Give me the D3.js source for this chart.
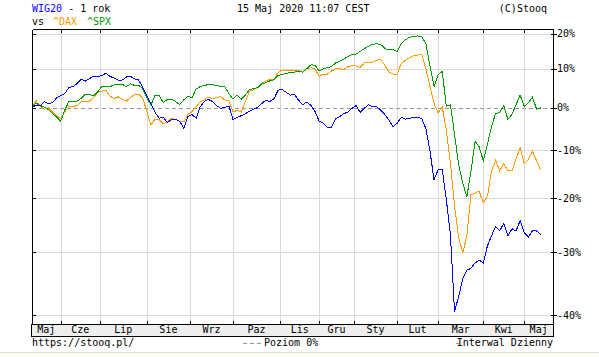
<!DOCTYPE html>
<html>
<head>
<meta charset="utf-8">
<script src="https://cdn.jsdelivr.net/npm/d3@7"></script>
<style>
    body { margin: 0; background: #fff; }
    svg { display: block; font-family: "DejaVu Sans Mono", monospace; font-size: 10px; }
</style>
</head>
<body>
<svg></svg>
<script>

// month labels and the trading-day index where each new month starts
const months = ['Maj', 'Cze', 'Lip', 'Sie', 'Wrz', 'Paz', 'Lis', 'Gru', 'Sty', 'Lut', 'Mar', 'Kwi', 'Maj']
const monthStarts = [14, 33, 56, 77, 98, 121, 140, 157, 178, 198, 220, 240]
const totalDays = 254
const dayStep = 2 //one value every second session

// percent change vs 15 May 2019
const yTicks = [20, 10, 0, -10, -20, -30, -40]

const wig20 = [
    0, 0.6, 0.5, 1.5, 1.0, 1.2, 2.4, 3.0, 3.5, 5.1,
    5.3, 6.1, 7.2, 6.7, 7.4, 8.0, 7.9, 8.2, 8.8, 8.0,
    7.5, 7.0, 7.0, 7.8, 8.0, 7.3, 7.0, 5.1, 3.0, 0.9,
    -1.2, -2.6, -2.4, -3.6, -2.9, -2.9, -3.3, -5.0, -2.2, -1.7,
    -2.6, 0.2, 1.5, 2.0, 1.5, 0.5, -0.2, 0, 0.4, -2.9,
    -2.4, -2.0, -1.5, -0.9, -0.4, 0, 1.0, 1.8, 1.5, 2.2,
    4.4, 4.5, 3.8, 3.1, 3.3, 1.8, 0.7, 1.4, 0.5, -1.0,
    -3.3, -3.8, -4.8, -4.8, -2.7, -2.2, -1.5, -1.1, -0.2, 0.5,
    -1.2, -0.2, 0.7, 0.2, 0.2, -0.6, -1.7, -3.0, -4.6, -3.8,
    -2.4, -2.8, -2.6, -2.4, -2.4, -2.7, -5.0, -10.1, -16.3, -14.2,
    -14.2, -20.3, -26.9, -39.5, -37.2, -34.4, -33.0, -32.7, -31.8, -31.3,
    -31.8, -28.9, -27.1, -25.4, -26.2, -24.8, -27.1, -25.8, -26.2, -24.3,
    -26.5, -27.3, -26.2, -26.2, -26.9
]

const dax = [
    0, 1.7, 0.4, -0.4, -0.1, -1.1, -2.0, -2.7, -1.0, 0.2,
    0.2, 0.5, 1.4, 1.5, 1.6, 2.5, 3.8, 4.1, 4.3, 2.9,
    2.2, 2.7, 2.1, 1.6, 2.5, 3.3, 3.3, 2.4, -1.0, -4.2,
    -2.8, -2.9, -3.9, -3.5, -2.6, -2.9, -3.3, -3.5, -1.7, -1.0,
    0.2, 1.4, 1.9, 2.6, 2.2, 2.5, 2.7, 1.9, 1.7, -1.1,
    -0.7, -1.1, 1.5, 4.1, 4.5, 5.0, 6.2, 6.7, 7.2, 7.1,
    9.0, 9.7, 9.6, 9.6, 9.6, 9.6, 9.1, 10.0, 10.3, 10.0,
    8.0, 8.6, 8.6, 9.4, 10.0, 10.2, 9.8, 10.6, 10.8, 10.8,
    10.4, 11.6, 11.6, 11.8, 12.3, 12.6, 10.9, 9.2, 8.6, 8.6,
    11.5, 12.3, 13.1, 13.6, 13.8, 14.0, 10.1, 5.4, 1.0, -1.3,
    0.1, -5.4, -12.9, -21.5, -27.4, -30.1, -27.1, -19.3, -19.0, -18.6,
    -20.9, -19.7, -14.6, -12.2, -14.4, -12.9, -14.4, -14.4, -11.8, -9.5,
    -12.9, -12.0, -10.2, -12.3, -14.3
]

const spx = [
    0, 1.1, 0.5, 0.1, -0.5, -1.5, -2.3, -3.3, -0.6, 1.5,
    1.6, 1.6, 2.3, 3.3, 3.3, 2.9, 3.9, 5.3, 5.3, 5.3,
    5.7, 5.8, 5.9, 5.3, 6.0, 5.6, 5.7, 4.7, 2.5, 0.6,
    3.1, 3.0, 1.2, 2.1, 2.1, 1.5, 0.7, 1.9, 2.8, 2.4,
    4.7, 5.3, 5.6, 5.8, 5.8, 5.6, 5.3, 5.2, 3.5, 2.1,
    3.1, 2.1, 3.1, 4.5, 4.8, 5.0, 6.0, 6.3, 6.8, 7.1,
    8.2, 8.5, 8.8, 9.0, 9.1, 9.3, 9.1, 10.1, 11.1, 11.0,
    9.4, 10.0, 10.3, 10.6, 11.6, 12.1, 12.7, 13.4, 14.0, 14.1,
    14.8, 15.6, 16.3, 16.8, 17.0, 16.8, 15.7, 15.2, 15.4, 14.8,
    17.1, 18.1, 18.9, 19.1, 19.3, 19.0, 17.1, 10.9, 5.3, 8.4,
    9.3, 0.3, 0.7, -6.4, -13.1, -17.0, -19.7, -14.6, -8.0, -9.2,
    -12.3, -8.7, -4.6, -1.5, -1.2, 0.5, -2.9, -1.6, 0.7, 3.1,
    0.3, 1.2, 2.6, -0.4, -0.1
]

const series = [
    { name: '^DAX', values: dax, color: '#ff9900' },
    { name: '^SPX', values: spx, color: '#009900' },
    { name: 'WIG20', values: wig20, color: '#0000ff' }
]

const renderChart = () => {

    const width = 599
    const height = 357

    //plot box inside the picture, the month strip sits under it
    const plot = { left: 32, right: 553, top: 29, bottom: 324 }
    const stripBottom = 336

    const xScale = d3.scaleLinear()
        .domain([0, totalDays])
        .range([plot.left, plot.right])

    // log scale on (1 + change), 20% .. -40%
    const yScale = d3.scaleLog()
        .domain([0.6, 1.2])
        .range([315, 33.5])

    const yOf = p => yScale(1 + p / 100)

    const svg = d3.select('svg')
        .attr('width', width)
        .attr('height', height)

    svg.append('rect')
        .attr('width', width)
        .attr('height', height)
        .attr('fill', '#fff')

    //pale strip at the very bottom
    svg.append('rect')
        .attr('x', 0).attr('y', 352)
        .attr('width', width).attr('height', height - 352)
        .attr('fill', '#fffff0')
    svg.append('line')
        .attr('x1', 0).attr('x2', width)
        .attr('y1', 352.5).attr('y2', 352.5)
        .attr('stroke', '#dddddd')

    const g = svg.append('g').attr('shape-rendering', 'crispEdges')

    //vertical grid at month starts
    g.selectAll('.vgrid')
        .data(monthStarts)
        .enter()
        .append('line')
            .attr('class', 'vgrid')
            .attr('x1', d => Math.round(xScale(d)) + 0.5)
            .attr('x2', d => Math.round(xScale(d)) + 0.5)
            .attr('y1', plot.top)
            .attr('y2', plot.bottom)
            .attr('stroke', '#d9d9d9')

    //horizontal grid, the 0% one is dashed
    g.selectAll('.hgrid')
        .data(yTicks)
        .enter()
        .append('line')
            .attr('class', 'hgrid')
            .attr('x1', plot.left)
            .attr('x2', plot.right)
            .attr('y1', d => Math.round(yOf(d)) + 0.5)
            .attr('y2', d => Math.round(yOf(d)) + 0.5)
            .attr('stroke', d => d === 0 ? '#999999' : '#d9d9d9')
            .attr('stroke-dasharray', d => d === 0 ? '4,3' : null)

    //the lines
    const line = d3.line()
        .x((d, i) => xScale(i * dayStep))
        .y(d => yOf(d))

    svg.append('g')
        .selectAll('path')
        .data(series)
        .enter()
        .append('path')
            .attr('d', d => line(d.values))
            .attr('fill', 'none')
            .attr('stroke', d => d.color)
            .attr('stroke-width', 1)
            .attr('shape-rendering', 'crispEdges')

    //frame
    const frame = svg.append('g')
        .attr('shape-rendering', 'crispEdges')
        .attr('stroke', '#000')

    frame.append('rect')
        .attr('x', plot.left - 0.5)
        .attr('y', plot.bottom + 0.5)
        .attr('width', plot.right - plot.left + 1)
        .attr('height', stripBottom - plot.bottom)
        .attr('fill', '#eeeeee')

    frame.append('line')
        .attr('x1', plot.left + 0.5).attr('x2', plot.right + 0.5)
        .attr('y1', plot.top + 0.5).attr('y2', plot.top + 0.5)
    frame.append('line')
        .attr('x1', plot.left + 0.5).attr('x2', plot.left + 0.5)
        .attr('y1', plot.top + 0.5).attr('y2', plot.bottom + 0.5)
    frame.append('line')
        .attr('x1', plot.right + 0.5).attr('x2', plot.right + 0.5)
        .attr('y1', plot.top + 0.5).attr('y2', stripBottom + 0.5)

    //month ticks, top and bottom
    frame.selectAll('.mtick-top')
        .data(monthStarts)
        .enter()
        .append('line')
            .attr('x1', d => Math.round(xScale(d)) + 0.5)
            .attr('x2', d => Math.round(xScale(d)) + 0.5)
            .attr('y1', plot.top)
            .attr('y2', plot.top + 4)
    frame.selectAll('.mtick-bottom')
        .data(monthStarts)
        .enter()
        .append('line')
            .attr('x1', d => Math.round(xScale(d)) + 0.5)
            .attr('x2', d => Math.round(xScale(d)) + 0.5)
            .attr('y1', plot.bottom - 3)
            .attr('y2', plot.bottom + 1)

    //value ticks left and right
    frame.selectAll('.ytick-left')
        .data(yTicks)
        .enter()
        .append('line')
            .attr('x1', plot.left)
            .attr('x2', plot.left + 4)
            .attr('y1', d => Math.round(yOf(d)) + 0.5)
            .attr('y2', d => Math.round(yOf(d)) + 0.5)
    frame.selectAll('.ytick-right')
        .data(yTicks)
        .enter()
        .append('line')
            .attr('x1', plot.right - 2)
            .attr('x2', plot.right + 4)
            .attr('y1', d => Math.round(yOf(d)) + 0.5)
            .attr('y2', d => Math.round(yOf(d)) + 0.5)

    svg.selectAll('.ylabel')
        .data(yTicks)
        .enter()
        .append('text')
            .attr('x', plot.right + 4)
            .attr('y', d => yOf(d) + 3.5)
            .attr('fill', '#000')
            .text(d => `${d}%`)

    //month names centered in their month
    const bounds = [0, ...monthStarts, totalDays]
    svg.selectAll('.mlabel')
        .data(months)
        .enter()
        .append('text')
            .attr('x', (d, i) => (xScale(bounds[i]) + xScale(bounds[i + 1])) / 2)
            .attr('y', 333)
            .attr('text-anchor', 'middle')
            .attr('fill', '#000')
            .text(d => d)

    //header
    const title = svg.append('text').attr('x', 32).attr('y', 12)
    title.append('tspan').attr('fill', '#0000ff').text('WIG20')
    title.append('tspan').attr('fill', '#000').text(' - 1 rok')

    svg.append('text').attr('x', 237).attr('y', 12).attr('fill', '#000')
        .text('15 Maj 2020 11:07 CEST')
    svg.append('text').attr('x', 547).attr('y', 12).attr('text-anchor', 'end').attr('fill', '#000')
        .text('(C)Stooq')

    svg.append('text').attr('x', 32).attr('y', 25).attr('fill', '#000').text('vs')
    svg.append('text').attr('x', 53).attr('y', 25).attr('fill', series[0].color).text(series[0].name)
    svg.append('text').attr('x', 87).attr('y', 25).attr('fill', series[1].color).text(series[1].name)

    //footer
    svg.append('text').attr('x', 32).attr('y', 346).attr('fill', '#000').text('https://stooq.pl/')

    svg.append('line')
        .attr('x1', 243).attr('x2', 263)
        .attr('y1', 343.5).attr('y2', 343.5)
        .attr('stroke', '#999')
        .attr('stroke-dasharray', '4,3')
        .attr('shape-rendering', 'crispEdges')
    svg.append('text').attr('x', 264).attr('y', 346).attr('fill', '#000').text('Poziom 0%')

    svg.append('line')
        .attr('x1', 456).attr('x2', 459)
        .attr('y1', 343.5).attr('y2', 343.5)
        .attr('stroke', '#999')
        .attr('shape-rendering', 'crispEdges')
    svg.append('text').attr('x', 553).attr('y', 346).attr('text-anchor', 'end').attr('fill', '#000')
        .text('Interwal Dzienny')
}

renderChart()
</script>
</body>
</html>
